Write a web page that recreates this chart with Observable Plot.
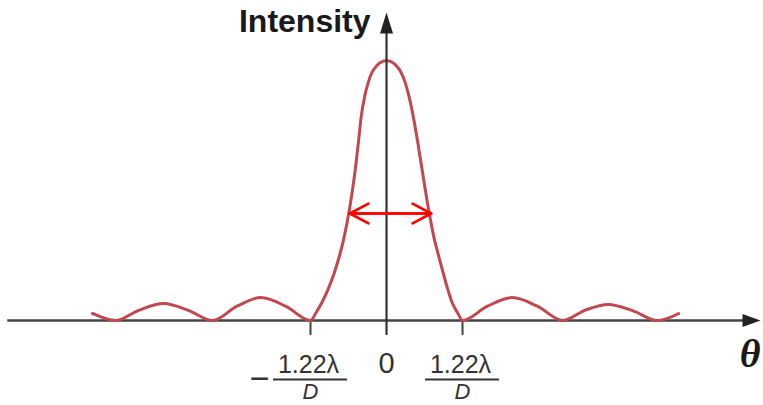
<!DOCTYPE html>
<html>
<head>
<meta charset="utf-8">
<script src="https://cdn.jsdelivr.net/npm/d3@7"></script>
<script src="https://cdn.jsdelivr.net/npm/@observablehq/plot@0.6"></script>
<style>
  html, body { margin: 0; padding: 0; background: #ffffff; }
  #chart svg { display: block; }
</style>
</head>
<body>
<div id="chart"></div>
<script>
// Diffraction pattern: angle θ (in units of λ/D) and relative intensity
const theta = [
  -4.72, -4.35, -3.97, -3.58, -3.19, -2.79, -2.40, -2.02, -1.62,
  -1.22, -1.132, -1.035, -0.939, -0.843, -0.754, -0.690, -0.586, -0.510, -0.449, -0.406, -0.348, -0.294, -0.225, -0.177, -0.104,
  0,
  0.104, 0.177, 0.225, 0.300, 0.358, 0.429, 0.498, 0.581, 0.666, 0.770, 0.835, 0.907, 0.971, 1.051, 1.140, 1.22,
  1.62, 2.02, 2.42, 2.83, 3.19, 3.56, 3.95, 4.35, 4.69
];
const intensity = [
  0.027, 0, 0.040, 0.065, 0.040, 0, 0.055, 0.088, 0.055,
  0, 0.03, 0.07, 0.12, 0.18, 0.25, 0.31, 0.44, 0.565, 0.69, 0.785, 0.865, 0.915, 0.958, 0.974, 0.991,
  1,
  0.991, 0.974, 0.958, 0.915, 0.865, 0.785, 0.69, 0.565, 0.44, 0.31, 0.25, 0.185, 0.13, 0.07, 0.03, 0,
  0.055, 0.088, 0.055, 0, 0.040, 0.062, 0.038, 0, 0.027
];

// Tick positions and labels
const tickTheta = [-1.22, 1.22];
const tickNumerator = ["1.22λ", "1.22λ"];
const tickDenominator = ["D", "D"];
const tickSign = ["−", ""];
const zeroLabel = ["0"];
const yTitle = ["Intensity"];
const xTitle = ["θ"];

// Width marker (double arrow) level and ends
const fwhmLevel = [0.4115];
const fwhmEnds = [-0.589, 0.7175];

// Axis extents (data units)
const xAxisEnds = [-6.08, 5.75];
const yAxisEnds = [-0.058, 1.11];
const xAxisTip = [6.003];
const yAxisTip = [1.185];
const tickDepth = [-0.058];

const curveData = theta.map((t, i) => ({t, v: intensity[i]}));

const arrowRight = {draw(ctx) { ctx.moveTo(0, 0); ctx.lineTo(-18, -6.5); ctx.lineTo(-18, 6.5); ctx.closePath(); }};
const arrowUp = {draw(ctx) { ctx.moveTo(0, 0); ctx.lineTo(-6.5, 21); ctx.lineTo(6.5, 21); ctx.closePath(); }};

const axisColor = "#444444";
const textColor = "#333333";

const chart = Plot.plot({
  width: 763,
  height: 405,
  marginTop: 60,
  marginBottom: 85,
  marginLeft: 0,
  marginRight: 0,
  x: {domain: [-6.196, 6.051], axis: null},
  y: {domain: [0, 1], axis: null},
  style: {fontFamily: "'Liberation Sans', Arial, sans-serif", background: "#ffffff", color: textColor},
  marks: [
    // horizontal axis
    Plot.ruleY([{y: 0, a: xAxisEnds[0], b: xAxisEnds[1]}], {y: "y", x1: "a", x2: "b", stroke: axisColor, strokeWidth: 2.6}),
    Plot.dot([{x: xAxisTip[0], y: 0}], {x: "x", y: "y", symbol: arrowRight, fill: "#222222", stroke: "none"}),
    // ticks
    Plot.ruleX(tickTheta.map(t => ({t, y1: 0, y2: tickDepth[0]})), {x: "t", y1: "y1", y2: "y2", stroke: axisColor, strokeWidth: 2}),
    // intensity curve
    Plot.line(curveData, {x: "t", y: "v", curve: "monotone-x", stroke: "#c2474f", strokeWidth: 3}),
    // vertical axis
    Plot.ruleX([{x: 0, a: yAxisEnds[0], b: yAxisEnds[1]}], {x: "x", y1: "a", y2: "b", stroke: "#333333", strokeWidth: 2.2}),
    Plot.dot([{x: 0, y: yAxisTip[0]}], {x: "x", y: "y", symbol: arrowUp, fill: "#222222", stroke: "none"}),
    // width double arrow
    Plot.arrow([{a: fwhmEnds[0], b: fwhmEnds[1], y: fwhmLevel[0]}, {a: fwhmEnds[1], b: fwhmEnds[0], y: fwhmLevel[0]}],
      {x1: "a", x2: "b", y1: "y", y2: "y", stroke: "#ff0000", strokeWidth: 2.6, headAngle: 56, headLength: 12.2}),
    // tick labels: fractions
    Plot.text(tickTheta.map((t, i) => ({t, s: tickNumerator[i]})), {x: "t", y: () => 0, text: "s", dy: 44.5, dx: -2, fontSize: 25, fill: textColor, lineAnchor: "middle"}),
    Plot.ruleY(tickTheta.map(t => ({t})), {y: () => 0, x1: d => d.t - 0.594, x2: d => d.t + 0.594, dy: 59, stroke: textColor, strokeWidth: 2}),
    Plot.text(tickTheta.map((t, i) => ({t, s: tickDenominator[i]})), {x: "t", y: () => 0, text: "s", dy: 71, fontSize: 22, fontStyle: "italic", fill: textColor, lineAnchor: "middle"}),
    Plot.text(tickTheta.map((t, i) => ({t, s: tickSign[i]})), {x: "t", y: () => 0, text: "s", dy: 59, dx: -41, fontSize: 34, fill: textColor, textAnchor: "end", lineAnchor: "middle"}),
    Plot.text(zeroLabel.map(s => ({s})), {x: () => 0, y: () => 0, text: "s", dy: 43, fontSize: 29, fill: textColor, lineAnchor: "middle"}),
    // axis titles
    Plot.text(yTitle.map(s => ({s})), {x: () => 0, y: () => 1, text: "s", dx: -16, dy: -38.5, fontSize: 32, fontWeight: "bold", fill: "#1a1a1a", textAnchor: "end", lineAnchor: "middle"}),
    Plot.text(xTitle.map(s => ({s})), {frameAnchor: "bottom-right", text: "s", dx: -3, dy: 33.5, fontSize: 40, fontWeight: "bold", fontStyle: "italic", fontFamily: "'Liberation Serif', 'DejaVu Serif', serif", fill: "#1a1a1a", textAnchor: "end", lineAnchor: "middle"})
  ]
});

document.getElementById("chart").appendChild(chart);
</script>
</body>
</html>
